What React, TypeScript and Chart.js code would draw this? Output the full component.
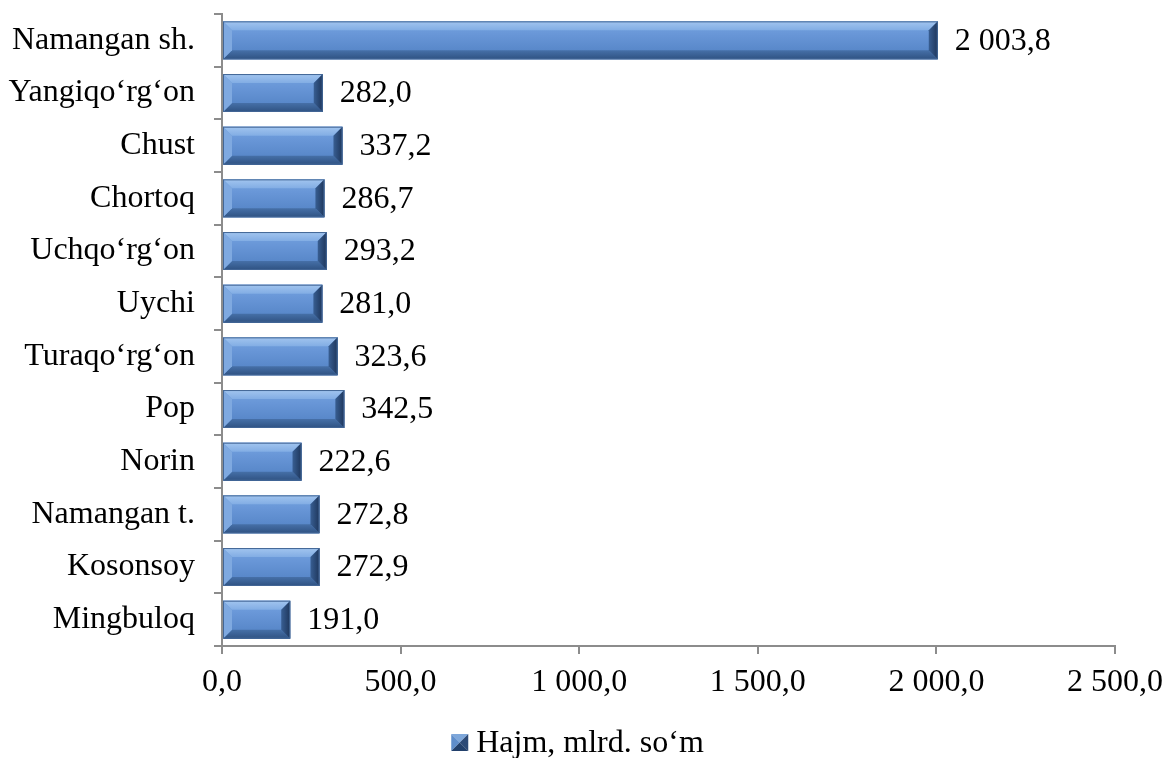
import React, { useEffect, useRef } from "react";
import { Chart, registerables } from "chart.js";

Chart.register(...registerables);

const categories = [
  "Namangan sh.",
  "Yangiqo‘rg‘on",
  "Chust",
  "Chortoq",
  "Uchqo‘rg‘on",
  "Uychi",
  "Turaqo‘rg‘on",
  "Pop",
  "Norin",
  "Namangan t.",
  "Kosonsoy",
  "Mingbuloq",
];
const values = [2003.8, 282.0, 337.2, 286.7, 293.2, 281.0, 323.6, 342.5, 222.6, 272.8, 272.9, 191.0];
const xTicks = [0, 500, 1000, 1500, 2000, 2500];
const seriesLabel = "Hajm, mlrd. so‘m";

const FONT_FAMILY = '"Liberation Serif", "Times New Roman", serif';
const AXIS_COLOR = "#8c8c8c";

function fmt(v: number): string {
  const [i, d] = v.toFixed(1).split(".");
  const ii = i.replace(/\B(?=(\d{3})+(?!\d))/g, " ");
  return ii + "," + d;
}

function poly(ctx: CanvasRenderingContext2D, pts: number[][], fill: string | CanvasGradient) {
  ctx.beginPath();
  ctx.moveTo(pts[0][0], pts[0][1]);
  for (let k = 1; k < pts.length; k++) ctx.lineTo(pts[k][0], pts[k][1]);
  ctx.closePath();
  ctx.fillStyle = fill;
  ctx.fill();
}

const bevelPlugin = {
  id: "bevelBars",
  afterDatasetsDraw(chart: any) {
    const ctx: CanvasRenderingContext2D = chart.ctx;
    const meta = chart.getDatasetMeta(0);
    ctx.save();
    meta.data.forEach((el: any, idx: number) => {
      const { x, y, base, height } = el.getProps(["x", "y", "base", "height"], true);
      const L = Math.min(x, base);
      const R = Math.max(x, base);
      const T = y - height / 2;
      const B = y + height / 2;
      const b = Math.min(9, height / 2, (R - L) / 2);

      // face
      const g = ctx.createLinearGradient(0, T, 0, B);
      g.addColorStop(0, "#76a4e0");
      g.addColorStop(0.35, "#6896d7");
      g.addColorStop(1, "#5080c2");
      ctx.fillStyle = g;
      ctx.fillRect(L, T, R - L, B - T);

      // top bevel
      const gt = ctx.createLinearGradient(0, T, 0, T + b);
      gt.addColorStop(0, "#a2c5ef");
      gt.addColorStop(1, "#82ade4");
      poly(ctx, [[L, T], [R, T], [R - b, T + b], [L + b, T + b]], gt);

      // bottom bevel
      const gb = ctx.createLinearGradient(0, B - b, 0, B);
      gb.addColorStop(0, "#4670a8");
      gb.addColorStop(1, "#2f5282");
      poly(ctx, [[L, B], [R, B], [R - b, B - b], [L + b, B - b]], gb);

      // left bevel
      poly(ctx, [[L, T], [L + b, T + b], [L + b, B - b], [L, B]], "#7fa9e0");

      // right bevel
      const gr = ctx.createLinearGradient(R - b, 0, R, 0);
      gr.addColorStop(0, "#385e92");
      gr.addColorStop(1, "#1e365b");
      poly(ctx, [[R, T], [R - b, T + b], [R - b, B - b], [R, B]], gr);

      // outline
      ctx.strokeStyle = "#436796";
      ctx.lineWidth = 1;
      ctx.strokeRect(L + 0.5, T + 0.5, R - L - 1, B - T - 1);

      // value label
      ctx.fillStyle = "#000";
      ctx.font = `32px ${FONT_FAMILY}`;
      ctx.textAlign = "left";
      ctx.textBaseline = "middle";
      ctx.fillText(fmt(values[idx]), R + 17, y + 1);
    });
    ctx.restore();
  },
  afterDraw(chart: any) {
    const ctx: CanvasRenderingContext2D = chart.ctx;
    ctx.save();
    ctx.font = `32px ${FONT_FAMILY}`;
    const tw = ctx.measureText(seriesLabel).width;
    const box = 17;
    const gap = 8;
    const total = box + gap + tw;
    const sx = chart.width / 2 - total / 2 - 6;
    const by = 734;
    const cx = sx + box / 2;
    const cy = by + box / 2;
    poly(ctx, [[sx, by], [sx + box, by], [cx, cy]], "#7ea7da");
    poly(ctx, [[sx, by], [sx, by + box], [cx, cy]], "#5f8ecb");
    poly(ctx, [[sx + box, by], [sx + box, by + box], [cx, cy]], "#2c4a76");
    poly(ctx, [[sx, by + box], [sx + box, by + box], [cx, cy]], "#22406b");
    ctx.fillStyle = "#000";
    ctx.textAlign = "left";
    ctx.textBaseline = "alphabetic";
    ctx.fillText(seriesLabel, sx + box + gap, 752);
    ctx.restore();
  },
};

export default function App() {
  const canvasRef = useRef<HTMLCanvasElement | null>(null);

  useEffect(() => {
    document.body.style.margin = "0";
    const canvas = canvasRef.current;
    if (!canvas) return;
    const font = { family: FONT_FAMILY, size: 32 };
    const chart = new Chart(canvas, {
      type: "bar",
      data: {
        labels: categories,
        datasets: [
          {
            label: seriesLabel,
            data: values,
            backgroundColor: "#5585c8",
            borderWidth: 0,
            categoryPercentage: 1,
            barPercentage: 0.72,
          },
        ],
      },
      options: {
        indexAxis: "y",
        animation: false,
        responsive: false,
        devicePixelRatio: 1,
        layout: { padding: { top: 14, right: 52, bottom: 0, left: 0 } },
        plugins: {
          legend: { display: false },
          tooltip: { enabled: false },
        },
        scales: {
          x: {
            type: "linear",
            min: 0,
            max: 2500,
            afterBuildTicks(scale: any) {
              scale.ticks = xTicks.map((v) => ({ value: v }));
            },
            ticks: {
              callback: (v: any) => fmt(Number(v)),
              font,
              color: "#000",
              padding: 9,
              maxRotation: 0,
              autoSkip: false,
            },
            grid: {
              drawOnChartArea: false,
              drawTicks: true,
              tickLength: 8,
              color: AXIS_COLOR,
              lineWidth: 2,
            },
            border: { color: AXIS_COLOR, width: 2 },
            afterFit(scale: any) {
              scale.height = 112;
              scale.paddingLeft = 0;
              scale.paddingRight = 0;
            },
          },
          y: {
            type: "category",
            ticks: { font, color: "#000", padding: 19, autoSkip: false },
            grid: {
              offset: true,
              drawOnChartArea: false,
              drawTicks: true,
              tickLength: 8,
              color: AXIS_COLOR,
              lineWidth: 2,
            },
            border: { color: AXIS_COLOR, width: 2 },
            afterFit(scale: any) {
              scale.width = 222;
              scale.paddingTop = 0;
              scale.paddingBottom = 0;
            },
          },
        },
      } as any,
      plugins: [bevelPlugin],
    });
    return () => chart.destroy();
  }, []);

  return (
    <div style={{ width: 1167, height: 758, position: "relative" }}>
      <canvas ref={canvasRef} width={1167} height={758} style={{ display: "block", width: 1167, height: 758 }} />
    </div>
  );
}
